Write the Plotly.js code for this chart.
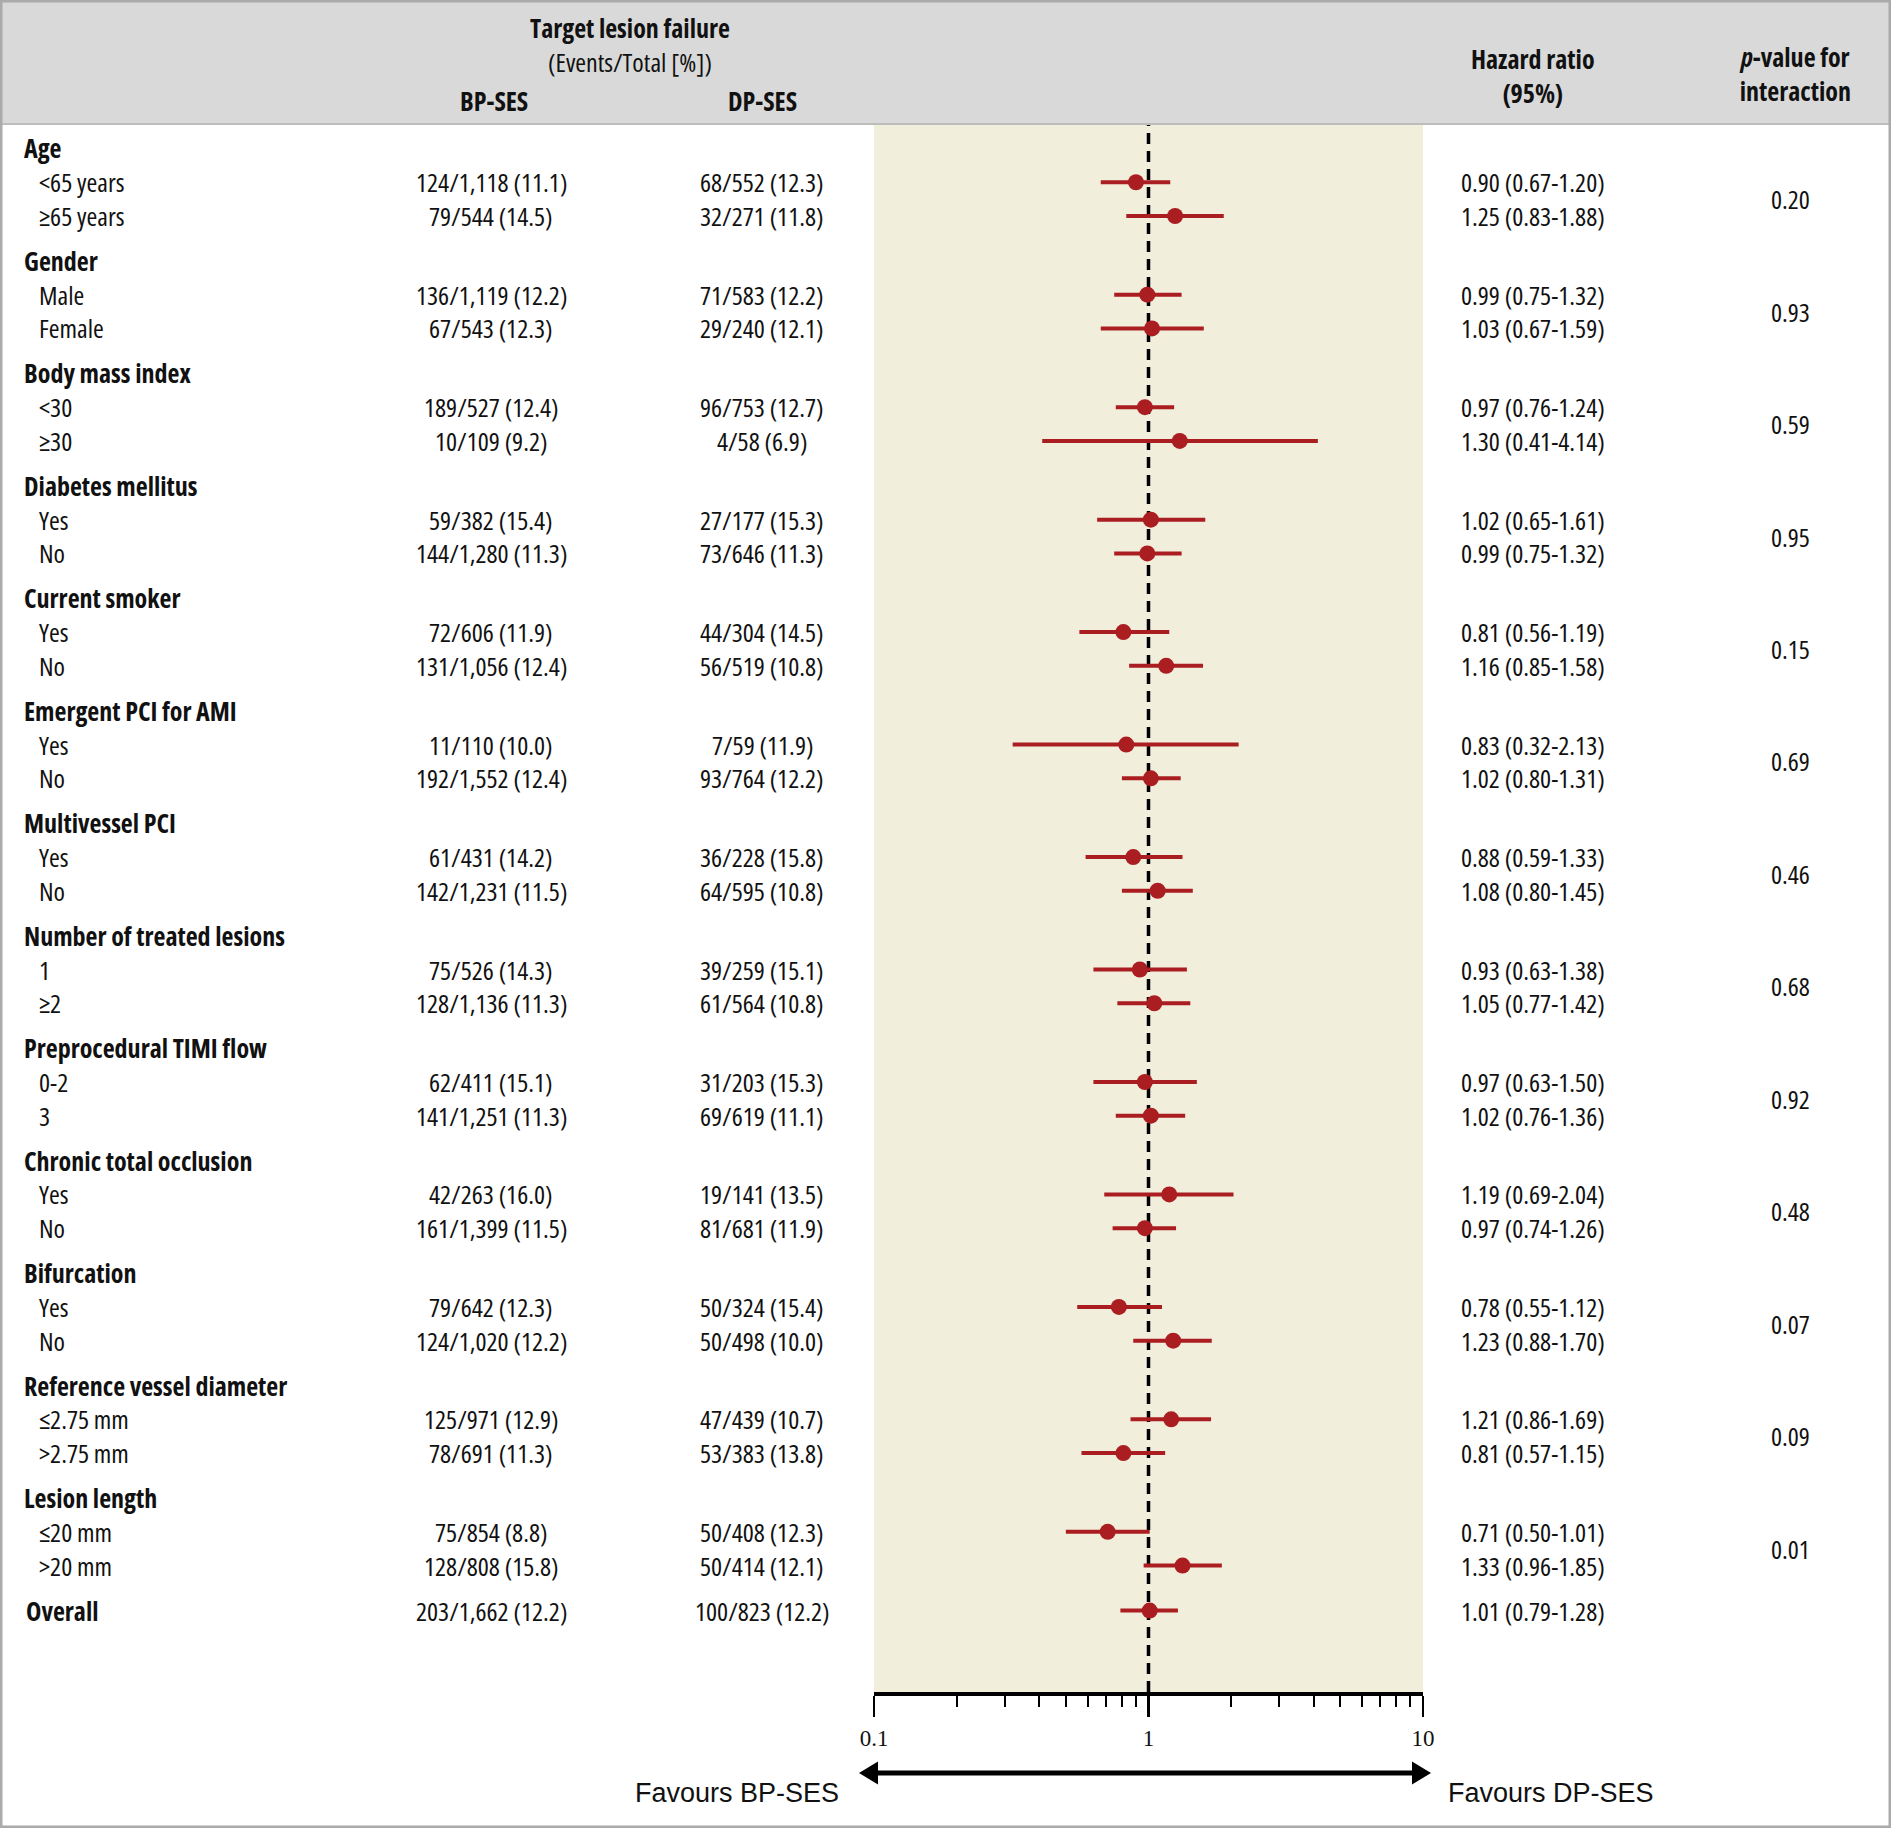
<!DOCTYPE html>
<html>
<head>
<meta charset="utf-8">
<script src="https://cdn.plot.ly/plotly-3.0.1.min.js"></script>
<style>
html,body{margin:0;padding:0;background:#fff;}
#chart{width:1891px;height:1828px;}
text[style*="Open Sans"], text[style*="Open Sans"] tspan{font-stretch:condensed !important;}
</style>
</head>
<body>
<div id="chart"></div>
<script>
// ---------------- DATA ----------------
const groups = ['Age','Gender','Body mass index','Diabetes mellitus','Current smoker','Emergent PCI for AMI','Multivessel PCI','Number of treated lesions','Preprocedural TIMI flow','Chronic total occlusion','Bifurcation','Reference vessel diameter','Lesion length'];
const subgroups = [['<65 years','≥65 years'],['Male','Female'],['<30','≥30'],['Yes','No'],['Yes','No'],['Yes','No'],['Yes','No'],['1','≥2'],['0-2','3'],['Yes','No'],['Yes','No'],['≤2.75 mm','>2.75 mm'],['≤20 mm','>20 mm']];
const bpSES = ['124/1,118 (11.1)','79/544 (14.5)','136/1,119 (12.2)','67/543 (12.3)','189/527 (12.4)','10/109 (9.2)','59/382 (15.4)','144/1,280 (11.3)','72/606 (11.9)','131/1,056 (12.4)','11/110 (10.0)','192/1,552 (12.4)','61/431 (14.2)','142/1,231 (11.5)','75/526 (14.3)','128/1,136 (11.3)','62/411 (15.1)','141/1,251 (11.3)','42/263 (16.0)','161/1,399 (11.5)','79/642 (12.3)','124/1,020 (12.2)','125/971 (12.9)','78/691 (11.3)','75/854 (8.8)','128/808 (15.8)'];
const dpSES = ['68/552 (12.3)','32/271 (11.8)','71/583 (12.2)','29/240 (12.1)','96/753 (12.7)','4/58 (6.9)','27/177 (15.3)','73/646 (11.3)','44/304 (14.5)','56/519 (10.8)','7/59 (11.9)','93/764 (12.2)','36/228 (15.8)','64/595 (10.8)','39/259 (15.1)','61/564 (10.8)','31/203 (15.3)','69/619 (11.1)','19/141 (13.5)','81/681 (11.9)','50/324 (15.4)','50/498 (10.0)','47/439 (10.7)','53/383 (13.8)','50/408 (12.3)','50/414 (12.1)'];
const hr = [0.90,1.25,0.99,1.03,0.97,1.30,1.02,0.99,0.81,1.16,0.83,1.02,0.88,1.08,0.93,1.05,0.97,1.02,1.19,0.97,0.78,1.23,1.21,0.81,0.71,1.33];
const ciLow = [0.67,0.83,0.75,0.67,0.76,0.41,0.65,0.75,0.56,0.85,0.32,0.80,0.59,0.80,0.63,0.77,0.63,0.76,0.69,0.74,0.55,0.88,0.86,0.57,0.50,0.96];
const ciHigh = [1.20,1.88,1.32,1.59,1.24,4.14,1.61,1.32,1.19,1.58,2.13,1.31,1.33,1.45,1.38,1.42,1.50,1.36,2.04,1.26,1.12,1.70,1.69,1.15,1.01,1.85];
const pInteraction = ['0.20','0.93','0.59','0.95','0.15','0.69','0.46','0.68','0.92','0.48','0.07','0.09','0.01'];
const overallLabel = 'Overall';
const overallBP = '203/1,662 (12.2)';
const overallDP = '100/823 (12.2)';
const overallHR = 1.01, overallLow = 0.79, overallHigh = 1.28;
const tickVals = [0.1, 1, 10];
const tickText = ['0.1', '1', '10'];
const minorTickVals = [0.2,0.3,0.4,0.5,0.6,0.7,0.8,0.9,2,3,4,5,6,7,8,9];

// ---------------- LAYOUT CONSTANTS ----------------
const W = 1891, H = 1828;
const PX = x => x / W, PY = y => 1 - y / H;
const panelTop = 124, panelBottom = 1692, panelLeft = 874, panelRight = 1423;
const firstRowPx = 148.5, unitPx = 33.74;
const FONT = "'Open Sans', 'Roboto Condensed', sans-serif";
const FS = 26;
const RED = '#aa1d21';

// row positions (in row units)
const yPos = [], hdrPos = [], pPos = [];
groups.forEach((g, i) => {
  const base = i * 10 / 3;
  hdrPos.push(base);
  yPos.push(base + 1, base + 2);
  pPos.push(base + 1.5);
});
const overallPos = groups.length * 10 / 3;

const allHR = hr.concat([overallHR]);
const allLow = ciLow.concat([overallLow]);
const allHigh = ciHigh.concat([overallHigh]);
const allY = yPos.concat([overallPos]);

const trace = {
  type: 'scatter', mode: 'markers',
  x: allHR, y: allY,
  marker: {color: RED, size: 16, line: {width: 0}},
  error_x: {type: 'data', symmetric: false,
    array: allHR.map((v, i) => allHigh[i] - v),
    arrayminus: allHR.map((v, i) => v - allLow[i]),
    color: RED, thickness: 4, width: 0},
  hoverinfo: 'skip', showlegend: false, cliponaxis: false
};

const ann = [];
function txt(text, xpx, y, anchor) {
  ann.push({
    text: text, x: PX(xpx), xref: 'paper', y: y, yref: 'y',
    xanchor: anchor, yanchor: 'middle', showarrow: false,
    font: {family: FONT, size: FS, color: '#111'}
  });
}
function ptxt(text, xpx, ypx, anchor, size, family) {
  ann.push({text: text, x: PX(xpx), xref: 'paper', y: PY(ypx), yref: 'paper',
    xanchor: anchor, yanchor: 'middle', showarrow: false, align: 'center',
    font: {family: family || FONT, size: size || FS, color: '#111'}});
}
const fmt = v => v.toFixed(2);

groups.forEach((g, i) => {
  txt('<b>' + g + '</b>', 22, hdrPos[i], 'left');
  subgroups[i].forEach((s, j) => {
    const k = i * 2 + j;
    txt(s, 37, yPos[k], 'left');
    txt(bpSES[k], 491, yPos[k], 'center');
    txt(dpSES[k], 762, yPos[k], 'center');
    txt(fmt(hr[k]) + ' (' + fmt(ciLow[k]) + '-' + fmt(ciHigh[k]) + ')', 1533, yPos[k], 'center');
  });
  txt(pInteraction[i], 1790, pPos[i], 'center');
});
txt('<b>' + overallLabel + '</b>', 24, overallPos, 'left');
txt(overallBP, 491, overallPos, 'center');
txt(overallDP, 762, overallPos, 'center');
txt(fmt(overallHR) + ' (' + fmt(overallLow) + '-' + fmt(overallHigh) + ')', 1533, overallPos, 'center');

// header texts
ptxt('<b>Target lesion failure</b><br>(Events/Total [%])', 630, 45.5, 'center', 26);
ptxt('<b>BP-SES</b>', 494, 101, 'center', 26);
ptxt('<b>DP-SES</b>', 762, 101, 'center', 26);
ptxt('<b>Hazard ratio</b><br><b>(95%)</b>', 1533, 75.5, 'center', 26);
ptxt('<b><i>p</i>-value for</b><br><b>interaction</b>', 1795, 74, 'center', 26);
// favours
ptxt('Favours BP-SES', 841, 1793, 'right', 27, "'Liberation Sans', Arial, sans-serif");
ptxt('Favours DP-SES', 1446, 1793, 'left', 27, "'Liberation Sans', Arial, sans-serif");

// arrow geometry
const arrY = 1773, arrL = 859, arrR = 1431, headLen = 19, headHalf = 11.5;
const shapes = [
  {type: 'rect', xref: 'paper', yref: 'paper', x0: 0, x1: 1, y0: PY(panelTop), y1: 1,
   fillcolor: '#d9d9d9', line: {width: 0}, layer: 'below'},
  {type: 'line', xref: 'paper', yref: 'paper', x0: 0, x1: 1, y0: PY(panelTop), y1: PY(panelTop),
   line: {color: '#bdbdbd', width: 2}},
  {type: 'line', xref: 'x', yref: 'paper', x0: 1, x1: 1, y0: PY(panelBottom), y1: PY(panelTop),
   line: {color: '#000', width: 3.5, dash: '11px,7px'}, layer: 'below'},
  {type: 'line', xref: 'paper', yref: 'paper', x0: PX(arrL + 10), x1: PX(arrR - 10), y0: PY(arrY), y1: PY(arrY),
   line: {color: '#000', width: 5}},
  {type: 'path', xref: 'paper', yref: 'paper', fillcolor: '#000', line: {width: 0},
   path: 'M' + PX(arrL) + ',' + PY(arrY) + ' L' + PX(arrL + headLen) + ',' + PY(arrY - headHalf) +
         ' L' + PX(arrL + headLen) + ',' + PY(arrY + headHalf) + ' Z'},
  {type: 'path', xref: 'paper', yref: 'paper', fillcolor: '#000', line: {width: 0},
   path: 'M' + PX(arrR) + ',' + PY(arrY) + ' L' + PX(arrR - headLen) + ',' + PY(arrY - headHalf) +
         ' L' + PX(arrR - headLen) + ',' + PY(arrY + headHalf) + ' Z'},
  {type: 'rect', xref: 'paper', yref: 'paper', x0: 0, x1: 1, y0: 0, y1: 1,
   line: {color: '#aaaaaa', width: 5}, fillcolor: 'rgba(0,0,0,0)'}
];

const layout = {
  width: W, height: H,
  margin: {l: 0, r: 0, t: 0, b: 0, pad: 0},
  paper_bgcolor: '#ffffff', plot_bgcolor: '#f2eedc',
  showlegend: false,
  xaxis: {
    type: 'log', range: [-1, 1], domain: [PX(panelLeft), PX(panelRight)],
    showgrid: false, zeroline: false, showline: true, linecolor: '#000', linewidth: 4,
    ticks: 'outside', ticklen: 21, tickwidth: 2.5, tickcolor: '#000',
    tickvals: tickVals, ticktext: tickText, ticklabelstandoff: 1,
    tickfont: {family: "'Liberation Serif', 'Times New Roman', serif", size: 23, color: '#111'},
    minor: {tickvals: minorTickVals, ticks: 'outside', ticklen: 11, tickwidth: 2, tickcolor: '#000', showgrid: false},
    fixedrange: true
  },
  yaxis: {
    range: [(panelBottom - firstRowPx) / unitPx, (panelTop - firstRowPx) / unitPx],
    domain: [PY(panelBottom), PY(panelTop)],
    visible: false, showgrid: false, zeroline: false, fixedrange: true
  },
  shapes: shapes,
  annotations: ann
};

Plotly.newPlot('chart', [trace], layout, {staticPlot: true, displayModeBar: false});
</script>
</body>
</html>
